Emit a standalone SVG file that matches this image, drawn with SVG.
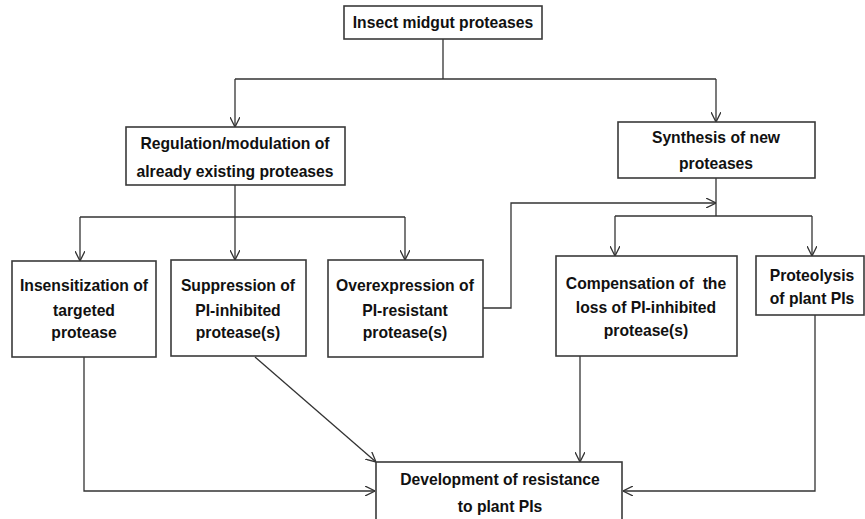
<svg xmlns="http://www.w3.org/2000/svg" width="865" height="519" viewBox="0 0 865 519">
<defs>
<marker id="arr" viewBox="0 0 10 10" refX="10" refY="5" markerWidth="10" markerHeight="10" markerUnits="userSpaceOnUse" orient="auto">
<path d="M0,0 L10,5 L0,10" fill="none" stroke="#333" stroke-width="1.3"/>
</marker>
</defs>
<style>
rect{fill:#fff;stroke:#3a3a3a;stroke-width:1.6}
text{font-family:"Liberation Sans",Arial,sans-serif;font-weight:bold;font-size:15.7px;fill:#111;text-anchor:middle}
#connectors path{fill:none;stroke:#333;stroke-width:1.3}
.a{marker-end:url(#arr)}
</style>
<rect x="0" y="0" width="865" height="519" style="fill:#fff;stroke:none"/>
<g id="connectors">
<path d="M443,39 V79 M235,79 H716"/>
<path class="a" d="M235,79 V127"/>
<path class="a" d="M716,79 V122"/>
<path d="M235,185 V217 M80,217 H405"/>
<path class="a" d="M80,217 V261"/>
<path class="a" d="M235,217 V260"/>
<path class="a" d="M405,217 V260"/>
<path class="a" d="M483,308 H511 V203 H716"/>
<path d="M716,178 V216 M615,216 H812"/>
<path class="a" d="M615,216 V256"/>
<path class="a" d="M812,216 V256"/>
<path class="a" d="M84,357 V491 H375"/>
<path class="a" d="M255,357 L376,462"/>
<path class="a" d="M580,356 V462"/>
<path class="a" d="M815,315 V491 H623"/>
</g>
<g id="n-top"><rect x="344" y="6" width="198" height="33"/><text x="443" y="28">Insect midgut proteases</text></g>
<g id="n-reg"><rect x="126" y="127" width="219" height="58"/><text x="235" y="149">Regulation/modulation of</text><text x="235" y="177">already existing proteases</text></g>
<g id="n-syn"><rect x="618" y="122" width="197" height="56"/><text x="716" y="143">Synthesis of new</text><text x="716" y="169">proteases</text></g>
<g id="n-ins"><rect x="12" y="261" width="144" height="96"/><text x="84" y="291">Insensitization of</text><text x="84" y="316">targeted</text><text x="84" y="338">protease</text></g>
<g id="n-sup"><rect x="171" y="260" width="135" height="96"/><text x="238" y="291">Suppression of</text><text x="238" y="316">PI-inhibited</text><text x="238" y="338">protease(s)</text></g>
<g id="n-ove"><rect x="328" y="260" width="155" height="97"/><text x="405" y="291">Overexpression of</text><text x="405" y="316">PI-resistant</text><text x="405" y="338">protease(s)</text></g>
<g id="n-com"><rect x="556" y="256" width="181" height="100"/><text x="646" y="289" xml:space="preserve">Compensation of  the</text><text x="646" y="313">loss of PI-inhibited</text><text x="646" y="336">protease(s)</text></g>
<g id="n-pro"><rect x="756" y="256" width="108" height="59"/><text x="812" y="281">Proteolysis</text><text x="812" y="304">of plant PIs</text></g>
<g id="n-dev"><rect x="376" y="462" width="246" height="65"/><text x="500" y="485">Development of resistance</text><text x="500" y="512">to plant PIs</text></g>
</svg>
